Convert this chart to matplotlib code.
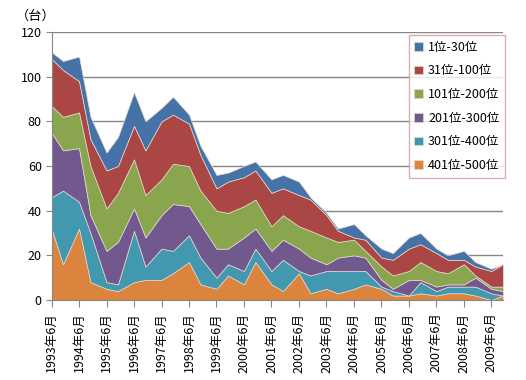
import matplotlib
matplotlib.use("Agg")
import matplotlib.pyplot as plt

plt.rcParams['font.family'] = ['Noto Sans CJK JP', 'DejaVu Sans']

# half-year lists: June / November
years  = [1993 + i // 2 for i in range(34)]
months = [6 if i % 2 == 0 else 11 for i in range(34)]

r401_500 = [32, 16, 32, 8, 5, 4, 8, 9, 9, 12, 17, 7, 5, 11, 7, 17, 7, 4, 12, 3, 5, 3, 5, 7, 5, 2, 2, 3, 2, 3, 3, 2, 0, 2]
r301_400 = [14, 33, 12, 22, 3, 3, 23, 6, 14, 10, 12, 12, 5, 5, 6, 6, 6, 14, 1, 8, 8, 10, 8, 6, 1, 2, 0, 5, 2, 3, 3, 4, 3, 0]
r201_300 = [29, 18, 24, 8, 14, 19, 10, 13, 15, 21, 13, 15, 13, 7, 15, 9, 9, 9, 10, 8, 3, 6, 7, 6, 3, 1, 7, 1, 2, 1, 1, 4, 2, 2]
r101_200 = [12, 15, 16, 22, 19, 22, 22, 19, 16, 18, 18, 15, 17, 16, 14, 13, 11, 11, 10, 12, 12, 7, 7, 3, 6, 6, 4, 8, 7, 5, 9, 1, 1, 2]
r31_100  = [21, 21, 14, 12, 17, 12, 15, 20, 26, 22, 19, 16, 10, 14, 13, 13, 15, 12, 14, 14, 10, 5, 1, 5, 4, 7, 10, 8, 8, 6, 2, 4, 7, 10]
r1_30    = [3, 4, 11, 10, 8, 13, 15, 13, 6, 8, 4, 4, 6, 4, 5, 4, 6, 6, 6, 1, 1, 1, 6, 2, 4, 3, 5, 5, 2, 2, 4, 2, 1, 0]

labels = ['401位-500位', '301位-400位', '201位-300位', '101位-200位', '31位-100位', '1位-30位']
colors = ['#DB843D', '#4198AF', '#71588F', '#89A54E', '#AA4643', '#4572A7']

x = [y + (m - 6) / 12.0 for y, m in zip(years, months)]

fig = plt.figure(figsize=(5.26, 3.80), dpi=100)
ax = fig.add_axes([0.098, 0.2105, 0.858, 0.7053])

ax.stackplot(x, r401_500, r301_400, r201_300, r101_200, r31_100, r1_30,
             colors=colors, labels=labels, edgecolor='#e8d8d0', linewidth=0.5, zorder=2)

ax.set_xlim(x[0], x[-1])
ax.set_ylim(0, 120)
ax.set_yticks(range(0, 121, 20))
ticks = list(range(1993, 2010))
ax.set_xticks(ticks)
ax.set_xticklabels([str(t) + '年6月' for t in ticks], rotation=90, fontsize=9)
ax.tick_params(axis='y', labelsize=9, length=4, color='#868686', pad=3)
ax.tick_params(axis='x', length=5, color='#868686', pad=4)

ax.grid(axis='y', color='#868686', linewidth=1, zorder=0)
ax.set_axisbelow(True)
for s in ['top', 'right']:
    ax.spines[s].set_visible(False)
for s in ['left', 'bottom']:
    ax.spines[s].set_color('#868686')
    ax.spines[s].set_zorder(3)

h, l = ax.get_legend_handles_labels()
leg = ax.legend(h[::-1], l[::-1], loc='upper right', bbox_to_anchor=(1.005, 0.988),
                fontsize=9, frameon=True, fancybox=False, handlelength=0.7, handleheight=0.7,
                labelspacing=0.85, handletextpad=0.4, borderpad=0.45, borderaxespad=0)
leg.get_frame().set_edgecolor('#D09A9A')
leg.get_frame().set_linewidth(1)
leg.set_zorder(5)

fig.text(0.03, 0.957, '（台）', fontsize=9.5, va='center', ha='left')

fig.savefig('out.png', dpi=100)
